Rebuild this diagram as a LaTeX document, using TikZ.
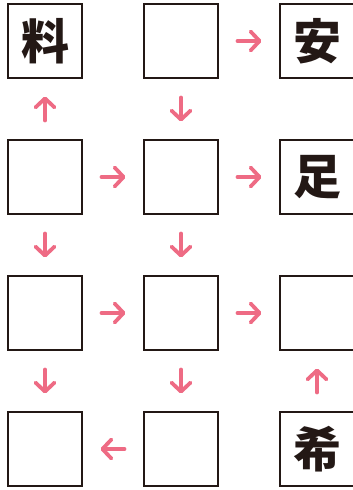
\documentclass[tikz,border=0pt]{standalone}
\usepackage{fontspec}
\newfontfamily\cjk{Noto Sans CJK JP Black}
\usetikzlibrary{arrows.meta}
\definecolor{arrpink}{HTML}{EE6B84}
\definecolor{boxline}{HTML}{231815}
\begin{document}
\begin{tikzpicture}[x=1pt,y=-1pt,
  cell/.style={draw=boxline,line width=2.2pt,minimum size=73.8pt,inner sep=0pt,font=\cjk\fontsize{48}{48}\selectfont,text=boxline},
  arr/.style={draw=arrpink,line width=3.8pt,line cap=round,-{Straight Barb[length=9pt,width=19pt,round]},shorten <=18.5pt,shorten >=17.5pt}]
\useasboundingbox (0,0) rectangle (353,490);
\node[cell] (a1) at (45,41) {料};
\node[cell] (b1) at (181,41) {};
\node[cell] (c1) at (317,41) {安};
\node[cell] (a2) at (45,177) {};
\node[cell] (b2) at (181,177) {};
\node[cell] (c2) at (317,177) {足};
\node[cell] (a3) at (45,313) {};
\node[cell] (b3) at (181,313) {};
\node[cell] (c3) at (317,313) {};
\node[cell] (a4) at (45,449) {};
\node[cell] (b4) at (181,449) {};
\node[cell] (c4) at (317,449) {希};
\draw[arr] (b1) -- (c1);
\draw[arr] (a2) -- (a1);
\draw[arr] (b1) -- (b2);
\draw[arr] (a2) -- (b2);
\draw[arr] (b2) -- (c2);
\draw[arr] (a2) -- (a3);
\draw[arr] (b2) -- (b3);
\draw[arr] (a3) -- (b3);
\draw[arr] (b3) -- (c3);
\draw[arr] (a3) -- (a4);
\draw[arr] (b3) -- (b4);
\draw[arr] (c4) -- (c3);
\draw[arr] (b4) -- (a4);
\end{tikzpicture}
\end{document}
